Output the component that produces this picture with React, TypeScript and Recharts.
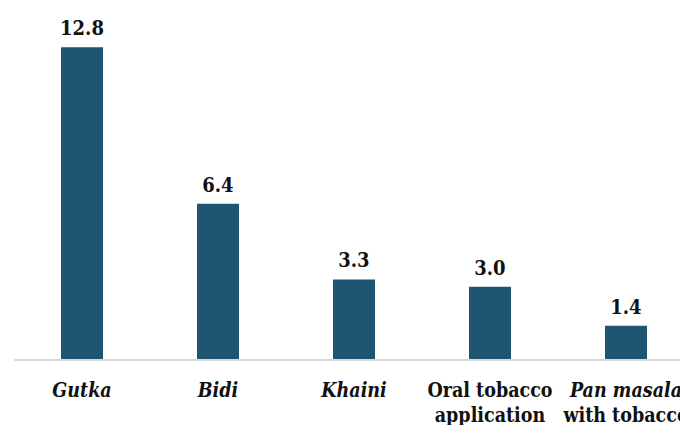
import React from 'react';
import { BarChart, Bar, XAxis, YAxis, LabelList } from 'recharts';

const categories = ['Gutka', 'Bidi', 'Khaini', 'Oral tobacco|application', 'Pan masala|with tobacco'];
const italicCats = ['Gutka', 'Bidi', 'Khaini', 'Pan masala'];
const values = [12.8, 6.4, 3.3, 3.0, 1.4];

const data = categories.map((c, i) => ({ name: c, value: values[i] }));

const FONT = '"DejaVu Serif Condensed", "DejaVu Serif", serif';

const CategoryTick = (props: any) => {
  const { x, y, payload } = props;
  const lines: string[] = String(payload.value).split('|');
  return (
    <text x={x} y={y} textAnchor="middle" fontFamily={FONT} fontWeight="bold" fontSize={19.5} fill="#111">
      {lines.map((l, i) => (
        <tspan key={i} x={x} dy={i === 0 ? 29 : 25} fontStyle={italicCats.includes(l) ? 'italic' : 'normal'}>
          {l}
        </tspan>
      ))}
    </text>
  );
};

export default function App() {
  return (
    <div style={{ width: 680, height: 417, overflow: 'hidden' }}>
      <BarChart width={686} height={417} data={data} margin={{ top: 10, right: 0, bottom: 0, left: 6 }} barSize={42}>
        <YAxis hide domain={[0, 14]} />
        <XAxis
          dataKey="name"
          height={65}
          interval={0}
          tickLine={false}
          axisLine={{ stroke: '#d9d9d9', strokeWidth: 2 }}
          tick={<CategoryTick />}
        />
        <Bar dataKey="value" fill="#1F5570" isAnimationActive={false}>
          <LabelList
            dataKey="value"
            position="top"
            offset={12}
            formatter={(v: any) => Number(v).toFixed(1)}
            style={{ fontFamily: FONT, fontWeight: 'bold', fontSize: 20, fill: '#111' }}
          />
        </Bar>
      </BarChart>
    </div>
  );
}
